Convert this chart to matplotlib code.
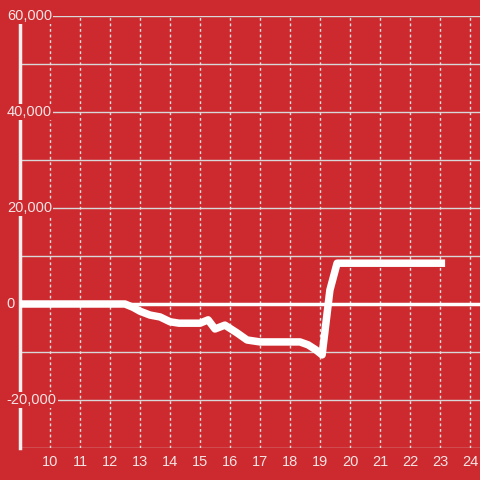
import matplotlib
matplotlib.use("Agg")
import matplotlib.pyplot as plt

# Data
x_vals = [9.0, 10.0, 11.0, 12.0, 12.5, 12.77, 13.0, 13.33, 13.67, 14.0, 14.3, 15.0, 15.27, 15.5,
          15.83, 16.23, 16.57, 17.0, 17.5, 18.33, 18.6, 18.85, 19.07, 19.33, 19.57, 20.0, 21.0, 22.0, 23.17]
y_vals = [0, 0, 0, 0, 0, -700, -1500, -2300, -2700, -3700, -4000, -4000, -3300, -5200,
          -4400, -6000, -7500, -7900, -7900, -7900, -8500, -9500, -10600, 2900, 8500, 8500, 8500, 8500, 8500]
x_ticks = [10, 11, 12, 13, 14, 15, 16, 17, 18, 19, 20, 21, 22, 23, 24]
y_labels = [60000, 40000, 20000, 0, -20000]
y_minor = [50000, 30000, 10000, -10000, -30000]

BG = "#cc2a2f"
plt.rcParams['font.family'] = ['Liberation Sans', 'DejaVu Sans']

fig = plt.figure(figsize=(4.8, 4.8), dpi=100, facecolor=BG)
ax = fig.add_axes([20/480, 32/480, 460/480, 432/480], facecolor=BG)
ax.set_xlim(9, 24.333)
ax.set_ylim(-30000, 60000)

for s in ["top", "right", "bottom"]:
    ax.spines[s].set_visible(False)
ax.spines["left"].set_color("#f4eeee")
ax.spines["left"].set_linewidth(2.5)
ax.spines["left"].set_zorder(2)

# horizontal gridlines
for v in y_labels + y_minor:
    if v == 0:
        continue
    ax.axhline(v, color="#d8d8d8", lw=1.0, zorder=1)
# vertical dashed gridlines
for t in x_ticks:
    ax.axvline(t, color="#e8e0e0", lw=1.0, ls=(0, (2, 2)), zorder=1)
ax.axhline(0, color="white", lw=2.5, zorder=3)

ax.plot(x_vals, y_vals, color="white", lw=5.4, solid_joinstyle="round",
        solid_capstyle="butt", zorder=4)

ax.set_yticks([])
ax.set_xticks(x_ticks)
ax.set_xticklabels([str(t) for t in x_ticks], color="#f4e4e4", fontsize=10.5)
ax.tick_params(axis="x", length=0, pad=5)

for v in y_labels:
    ax.text(8.56, v, f"{v:,}", color="#f4e4e4", fontsize=10.5, ha="left", va="center",
            zorder=5, clip_on=False,
            bbox=dict(boxstyle="square,pad=0.1", fc=BG, ec="none"))

fig.savefig("out.png", dpi=100, facecolor=BG)
